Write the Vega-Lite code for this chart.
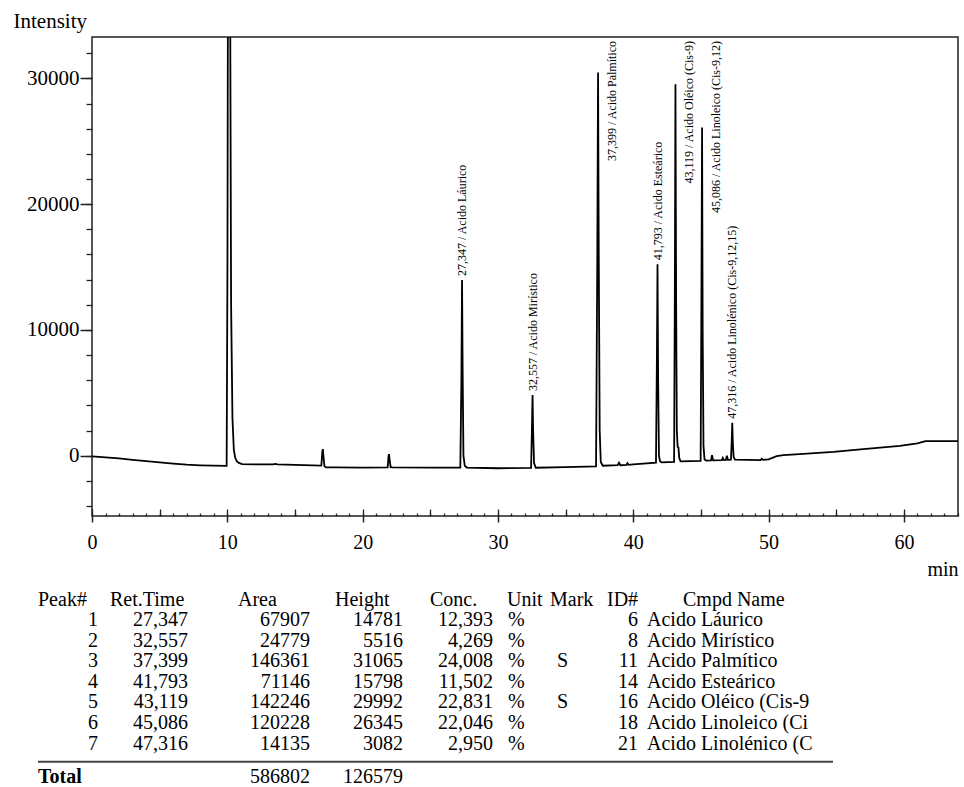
{
  "$schema": "https://vega.github.io/schema/vega-lite/v6.json",
  "width": 866,
  "height": 479,
  "autosize": {"type": "none"},
  "padding": {"left": 92, "top": 37, "right": 6, "bottom": 271},
  "background": "white",
  "config": {
    "view": {"stroke": "#222", "strokeWidth": 1.5},
    "font": "Liberation Serif",
    "axis": {"grid": false, "labelFont": "Liberation Serif", "titleFont": "Liberation Serif", "labelColor": "black", "titleColor": "black", "tickColor": "#222", "domainColor": "#222", "labelFlush": false, "labelOverlap": false}
  },
  "datasets": {
    "chrom": [
      {"t":0,"i":-50},{"t":1,"i":-130},{"t":2,"i":-220},{"t":3,"i":-330},{"t":4,"i":-430},{"t":5,"i":-540},{"t":6,"i":-640},{"t":7,"i":-720},{"t":8,"i":-770},{"t":9,"i":-800},{"t":9.95,"i":-810},{"t":10.01,"i":15000},{"t":10.05,"i":40000},{"t":10.2,"i":40000},{"t":10.28,"i":12000},{"t":10.38,"i":3000},{"t":10.48,"i":500},{"t":10.58,"i":-150},{"t":10.7,"i":-450},{"t":10.85,"i":-580},{"t":11.1,"i":-680},{"t":12,"i":-690},{"t":13.4,"i":-690},{"t":13.55,"i":-650},{"t":13.7,"i":-700},{"t":15,"i":-740},{"t":16.95,"i":-790},{"t":17.02,"i":300},{"t":17.06,"i":520},{"t":17.1,"i":0},{"t":17.18,"i":-850},{"t":17.3,"i":-940},{"t":18,"i":-940},{"t":20,"i":-950},{"t":21.85,"i":-940},{"t":21.92,"i":0},{"t":21.95,"i":120},{"t":21.99,"i":-300},{"t":22.07,"i":-920},{"t":22.2,"i":-940},{"t":25,"i":-945},{"t":27.22,"i":-945},{"t":27.3,"i":6000},{"t":27.347,"i":13970},{"t":27.39,"i":7000},{"t":27.45,"i":0},{"t":27.55,"i":-800},{"t":27.7,"i":-945},{"t":30,"i":-1000},{"t":32.45,"i":-980},{"t":32.51,"i":2000},{"t":32.557,"i":4820},{"t":32.6,"i":2000},{"t":32.67,"i":-600},{"t":32.8,"i":-960},{"t":35,"i":-920},{"t":37.25,"i":-860},{"t":37.34,"i":15000},{"t":37.399,"i":30480},{"t":37.45,"i":16000},{"t":37.52,"i":2000},{"t":37.6,"i":-500},{"t":37.75,"i":-800},{"t":38.85,"i":-760},{"t":38.95,"i":-560},{"t":39.05,"i":-760},{"t":39.5,"i":-730},{"t":39.57,"i":-600},{"t":39.65,"i":-730},{"t":40,"i":-700},{"t":41.68,"i":-560},{"t":41.75,"i":8000},{"t":41.793,"i":15220},{"t":41.84,"i":6000},{"t":41.9,"i":0},{"t":41.98,"i":-450},{"t":42.1,"i":-530},{"t":43.02,"i":-490},{"t":43.08,"i":15000},{"t":43.119,"i":29550},{"t":43.17,"i":12000},{"t":43.22,"i":2000},{"t":43.28,"i":700},{"t":43.34,"i":650},{"t":43.4,"i":-200},{"t":43.5,"i":-450},{"t":44.98,"i":-420},{"t":45.04,"i":13000},{"t":45.086,"i":26100},{"t":45.13,"i":10000},{"t":45.19,"i":800},{"t":45.27,"i":-300},{"t":45.4,"i":-390},{"t":45.75,"i":-380},{"t":45.82,"i":40},{"t":45.9,"i":-370},{"t":46.55,"i":-360},{"t":46.62,"i":-175},{"t":46.7,"i":-350},{"t":46.85,"i":-340},{"t":46.92,"i":0},{"t":47.0,"i":-330},{"t":47.22,"i":-320},{"t":47.28,"i":1200},{"t":47.316,"i":2610},{"t":47.36,"i":1000},{"t":47.42,"i":-100},{"t":47.52,"i":-320},{"t":48.5,"i":-330},{"t":49.4,"i":-360},{"t":49.5,"i":-250},{"t":49.6,"i":-340},{"t":50.0,"i":-300},{"t":50.6,"i":-40},{"t":51.1,"i":40},{"t":52,"i":100},{"t":54.8,"i":300},{"t":57,"i":520},{"t":59.7,"i":780},{"t":61,"i":970},{"t":61.6,"i":1150},{"t":62.5,"i":1160},{"t":64,"i":1150}
    ],
    "peaks": [
      {"t":27.347,"h":13970,"label":"27,347 / Acido Láurico"},
      {"t":32.557,"h":4820,"label":"32,557 / Acido Mirístico"},
      {"t":37.399,"h":30480,"label":"37,399 / Acido Palmítico"},
      {"t":41.793,"h":15220,"label":"41,793 / Acido Esteárico"},
      {"t":43.119,"h":29550,"label":"43,119 / Acido Oléico (Cis-9)"},
      {"t":45.086,"h":26100,"label":"45,086 / Acido Linoleico (Cis-9,12)"},
      {"t":47.316,"h":2610,"label":"47,316 / Acido Linolénico (Cis-9,12,15)"}
    ],
    "table": [
      {"row":1,"peak":"1","ret":"27,347","area":"67907","height":"14781","conc":"12,393","unit":"%","mark":"","id":"6","name":"Acido Láurico"},
      {"row":2,"peak":"2","ret":"32,557","area":"24779","height":"5516","conc":"4,269","unit":"%","mark":"","id":"8","name":"Acido Mirístico"},
      {"row":3,"peak":"3","ret":"37,399","area":"146361","height":"31065","conc":"24,008","unit":"%","mark":"S","id":"11","name":"Acido Palmítico"},
      {"row":4,"peak":"4","ret":"41,793","area":"71146","height":"15798","conc":"11,502","unit":"%","mark":"","id":"14","name":"Acido Esteárico"},
      {"row":5,"peak":"5","ret":"43,119","area":"142246","height":"29992","conc":"22,831","unit":"%","mark":"S","id":"16","name":"Acido Oléico (Cis-9)"},
      {"row":6,"peak":"6","ret":"45,086","area":"120228","height":"26345","conc":"22,046","unit":"%","mark":"","id":"18","name":"Acido Linoleico (Cis-9,12)"},
      {"row":7,"peak":"7","ret":"47,316","area":"14135","height":"3082","conc":"2,950","unit":"%","mark":"","id":"21","name":"Acido Linolénico (Cis-9,12,15)"},
      {"row":8,"peak":"","ret":"","area":"586802","height":"126579","conc":"","unit":"","mark":"","id":"","name":""}
    ],
    "cols": [
      {"key":"peak","header":"Peak#","col":1},
      {"key":"ret","header":"Ret.Time","col":2},
      {"key":"area","header":"Area","col":3},
      {"key":"height","header":"Height","col":4},
      {"key":"conc","header":"Conc.","col":5},
      {"key":"unit","header":"Unit","col":6},
      {"key":"mark","header":"Mark","col":7},
      {"key":"id","header":"ID#","col":8},
      {"key":"name","header":"Cmpd Name","col":9}
    ]
  },
  "layer": [
    {
      "layer": [
        {
          "data": {"name": "chrom"},
          "mark": {"type": "line", "color": "black", "strokeWidth": 1.8, "clip": true},
          "encoding": {
            "x": {"field": "t", "type": "quantitative", "scale": {"domain": [0, 64], "nice": false, "zero": false},
              "axis": {"orient": "bottom", "values": [0,10,20,30,40,50,60], "tickSize": 6, "tickWidth": 1.5, "domain": false, "labelFontSize": 20, "labelPadding": 10, "format": "d", "title": "min", "titleFontSize": 20, "titleFontWeight": "normal", "titleAlign": "right", "titleBaseline": "alphabetic", "titleX": 866, "titleY": 59}},
            "y": {"field": "i", "type": "quantitative", "scale": {"domain": [-4800, 33300], "nice": false, "zero": false},
              "axis": {"orient": "left", "values": [0,10000,20000,30000], "tickSize": 12, "tickWidth": 1.5, "domain": false, "labelFontSize": 21, "labelPadding": 1, "format": "d", "title": "Intensity", "titleAngle": 0, "titleAlign": "left", "titleBaseline": "alphabetic", "titleX": -79, "titleY": -10, "titleFontSize": 21, "titleFontWeight": "normal"}}
          }
        },
        {
          "data": {"name": "peaks"},
          "transform": [{"filter": "datum.h < 25000"}],
          "mark": {"type": "text", "angle": 270, "align": "left", "baseline": "middle", "dx": 4, "font": "Liberation Serif", "fontSize": 12, "color": "black"},
          "encoding": {
            "x": {"field": "t", "type": "quantitative", "scale": {"domain": [0, 64], "nice": false, "zero": false},
              "axis": {"orient": "bottom", "values": [0,1,2,3,4,5,6,7,8,9,10,11,12,13,14,15,16,17,18,19,20,21,22,23,24,25,26,27,28,29,30,31,32,33,34,35,36,37,38,39,40,41,42,43,44,45,46,47,48,49,50,51,52,53,54,55,56,57,58,59,60,61,62,63,64], "tickSize": -3, "tickWidth": 1.3, "labels": false, "domain": false, "title": null}},
            "y": {"field": "h", "type": "quantitative", "scale": {"domain": [-4800, 33300], "nice": false, "zero": false},
              "axis": {"orient": "left", "values": [-4000,-2000,0,2000,4000,6000,8000,10000,12000,14000,16000,18000,20000,22000,24000,26000,28000,30000,32000], "tickSize": 6, "tickWidth": 1.3, "labels": false, "domain": false, "title": null}},
            "text": {"field": "label"}
          }
        },
        {
          "data": {"name": "peaks"},
          "transform": [{"filter": "datum.h >= 25000"}],
          "mark": {"type": "text", "angle": 270, "align": "right", "baseline": "middle", "dx": -4, "dy": 14, "font": "Liberation Serif", "fontSize": 12, "color": "black"},
          "encoding": {
            "x": {"field": "t", "type": "quantitative", "scale": {"domain": [0, 64], "nice": false, "zero": false},
              "axis": {"orient": "bottom", "values": [0,5,10,15,20,25,30,35,40,45,50,55,60], "tickSize": -7, "tickWidth": 1.3, "labels": false, "domain": false, "title": null}},
            "y": {"datum": 33300, "type": "quantitative", "axis": null},
            "text": {"field": "label"}
          }
        }
      ],
      "resolve": {"axis": {"x": "independent", "y": "independent"}}
    },
    {
      "layer": [
        {
          "data": {"name": "table"},
          "transform": [
            {"fold": ["peak", "ret", "area", "height", "conc", "id"], "as": ["key", "text"]},
            {"lookup": "key", "from": {"data": {"name": "cols"}, "key": "key", "fields": ["col"]}},
            {"filter": "datum.text !== ''"}
          ],
          "mark": {"type": "text", "align": "right", "baseline": "middle", "font": "Liberation Serif", "fontSize": 20, "color": "black"},
          "encoding": {
            "x": {"field": "col", "type": "quantitative", "scale": {"domain": [1, 2, 3, 4, 5, 8], "range": [6, 96, 218, 311, 401, 546], "nice": false, "zero": false}, "axis": null},
            "y": {"field": "row", "type": "quantitative", "scale": {"domain": [0, 1, 7, 8], "range": [563, 583, 706.5, 739.5], "nice": false, "zero": false}, "axis": null},
            "text": {"field": "text"}
          }
        },
        {
          "data": {"name": "table"},
          "transform": [
            {"fold": ["unit", "mark", "name"], "as": ["key", "text"]},
            {"lookup": "key", "from": {"data": {"name": "cols"}, "key": "key", "fields": ["col"]}},
            {"filter": "datum.text !== ''"}
          ],
          "mark": {"type": "text", "align": "left", "baseline": "middle", "font": "Liberation Serif", "fontSize": 20, "color": "black", "limit": 166, "ellipsis": "\u200b"},
          "encoding": {
            "x": {"field": "col", "type": "quantitative", "scale": {"domain": [6, 7, 9], "range": [416, 465, 555], "nice": false, "zero": false}, "axis": null},
            "y": {"field": "row", "type": "quantitative", "axis": null},
            "text": {"field": "text"}
          }
        },
        {
          "layer": [
            {
              "data": {"name": "cols"},
              "mark": {"type": "text", "align": "left", "baseline": "middle", "font": "Liberation Serif", "fontSize": 20, "color": "black"},
              "encoding": {
                "x": {"field": "col", "type": "quantitative", "scale": {"domain": [1, 2, 3, 4, 5, 6, 7, 8, 9, 10], "range": [-54, 18, 146, 243, 338, 415, 458, 515, 591, 741], "nice": false, "zero": false}, "axis": null},
                "y": {"datum": 0, "type": "quantitative", "axis": null},
                "text": {"field": "header"}
              }
            },
            {
              "data": {"values": [{"label": "Total"}]},
              "mark": {"type": "text", "align": "left", "baseline": "middle", "font": "Liberation Serif", "fontSize": 20, "fontWeight": "bold", "color": "black"},
              "encoding": {
                "x": {"datum": 1, "type": "quantitative", "axis": null},
                "y": {"datum": 8, "type": "quantitative", "axis": null},
                "text": {"field": "label"}
              }
            },
            {
              "data": {"values": [{"label": "line"}]},
              "mark": {"type": "rule", "color": "#444", "strokeWidth": 2},
              "encoding": {
                "x": {"datum": 1, "type": "quantitative", "axis": null},
                "x2": {"datum": 10},
                "y": {"datum": 7.55, "type": "quantitative", "axis": null}
              }
            }
          ]
        }
      ],
      "resolve": {"scale": {"x": "independent"}}
    }
  ],
  "resolve": {"scale": {"x": "independent", "y": "independent"}}
}
